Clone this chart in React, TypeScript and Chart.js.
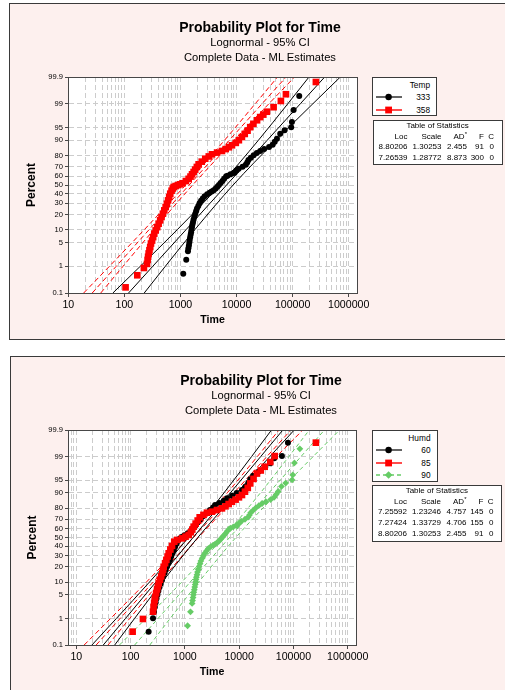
import React, { useEffect, useRef } from 'react';
import { Chart, registerables, LinearScale } from 'chart.js';

Chart.register(...registerables);

// ---------------- data ----------------
const PCT_TICKS = [0.1, 1, 5, 10, 20, 30, 40, 50, 60, 70, 80, 90, 95, 99, 99.9];
const FIT_PCT = [0.1, 1, 10, 50, 90, 99, 99.9];

// Top panel: Temp 333 (N=91)
const temp333Time = [1122, 1268, 1360, 1385, 1415, 1440, 1460, 1490, 1520, 1550, 1575, 1600, 1630, 1670, 1710, 1762, 1830, 1900, 1970, 2080, 2190, 2330, 2500, 2700, 3000, 3310, 3600, 3920, 4250, 4550, 4850, 5200, 5600, 6000, 6500, 6900, 7800, 8800, 9300, 10000, 10900, 12800, 14600, 15500, 16300, 18000, 20200, 23000, 26400, 31000, 38000, 44000, 48000, 52500, 60100, 72000, 94400, 97200, 104200, 131200];
const temp333Pct = [0.56, 1.63, 2.9, 3.5, 4.2, 5.0, 5.8, 6.7, 7.7, 8.8, 10, 11.3, 12.7, 14.2, 16, 18, 20.3, 22.6, 25, 27.5, 30, 32.6, 35, 37.5, 39.7, 41.3, 42.5, 44, 46, 48, 50, 52.2, 54.5, 57, 59.5, 60.5, 62, 63.5, 64, 66, 68, 70, 72, 74, 76.2, 78.2, 80.2, 82, 83.5, 84.8, 86.2, 87.6, 89.2, 90.7, 92.9, 94.1, 95.1, 96.4, 98.4, 99.46];

// Top panel: Temp 358 (N=300)
const temp358Time = [105, 170, 223, 253, 260, 265, 271, 280, 289, 298, 312, 326, 341, 362, 385, 408, 435, 460, 487, 515, 545, 574, 602, 630, 658, 695, 730, 757, 820, 900, 980, 1090, 1250, 1400, 1510, 1610, 1718, 1830, 1960, 2110, 2400, 2767, 3200, 3646, 4500, 5495, 6400, 7300, 8283, 9700, 11000, 12480, 14000, 15700, 17550, 20000, 23200, 26400, 30000, 34800, 45800, 61800, 76000, 260000];
const temp358Pct = [0.17, 0.49, 0.88, 1.2, 1.6, 2.0, 2.5, 3.1, 3.8, 4.7, 5.6, 6.8, 8.2, 9.7, 11.4, 13.4, 15.6, 18, 20.6, 23.4, 26.4, 29.6, 33, 36.6, 40.2, 43.5, 46, 47.7, 48.8, 49.8, 50.8, 52, 54.5, 57, 59.5, 62, 64.5, 67, 69.7, 72.3, 74.8, 77.4, 79.3, 81, 82.3, 83.5, 84.8, 86, 87.2, 88.6, 90, 91.5, 92.8, 94, 95.1, 96, 96.8, 97.4, 97.8, 98.2, 98.7, 99.19, 99.53, 99.84];

// Fitted lines and 95% CI (time at FIT_PCT)
const temp333Fit = [118.7, 321, 1253, 6646, 35270, 137600, 373300];
const temp333Lo = [62.4, 192, 873, 5085, 24580, 82200, 196000];
const temp333Hi = [226, 537, 1798, 8690, 50600, 230300, 709000];
const temp358Fit = [26.7, 71.5, 274.5, 1429, 7441, 28580, 76500];
const temp358Lo = [18.8, 54.1, 225.5, 1236, 6111, 21600, 53900];
const temp358Hi = [37.9, 94.6, 334, 1653, 9060, 37800, 108600];

// Bottom panel: Humd 60 (N=145)
const humd60Time = [215, 259, 270, 280, 290, 300, 312, 325, 340, 358, 378, 398, 420, 445, 470, 500, 530, 560, 592, 625, 660, 700, 745, 800, 870, 980, 1130, 1290, 1420, 1560, 1730, 1920, 2150, 2500, 2900, 3300, 3600, 4300, 5200, 6000, 7400, 9000, 11300, 13000, 14800, 16000, 18000, 22900, 30300, 37400, 44300, 61300, 79200];
const humd60Pct = [0.34, 1.01, 1.6, 2.3, 3.1, 4.0, 5.0, 6.2, 7.6, 9.2, 11, 13, 15.2, 17.6, 20.2, 23, 26, 29.2, 32.6, 36, 39.5, 43, 46, 48.5, 50.5, 52.5, 55, 58, 61, 64, 67, 70, 73, 76, 78.5, 80.5, 82.5, 84, 85.5, 87, 88.5, 90, 91.4, 92.8, 94.2, 95.3, 96.2, 97.1, 97.9, 98.35, 98.86, 99.04, 99.68];

// Bottom panel: Humd 85 (N=155)
const humd85Time = [109, 169, 259, 265, 272, 278, 285, 296, 308, 318, 329, 348, 366, 384, 397, 407, 432, 456, 480, 503, 540, 580, 638, 720, 885, 1030, 1175, 1290, 1370, 1452, 1580, 1720, 1875, 2200, 2554, 3155, 3900, 4820, 5600, 6400, 7360, 8600, 9900, 11270, 12800, 14400, 16000, 18400, 21270, 25000, 29500, 37400, 45080, 259000];
const humd85Pct = [0.34, 0.96, 1.65, 2.3, 3.0, 3.7, 4.4, 5.5, 6.8, 8.0, 9.4, 11.2, 13.2, 15.4, 17.7, 20, 23, 26, 29.2, 32.5, 36.5, 40.5, 45.2, 47.2, 49, 51, 52.9, 56, 59, 62.2, 65.5, 68.7, 71.9, 74.2, 76.2, 77.1, 78.5, 79.9, 81.5, 83.2, 84.8, 86.2, 87.6, 88.9, 90.6, 92.3, 94.0, 95.4, 96.7, 97.3, 97.9, 98.5, 99.04, 99.68];

// Humd 90 is the same sample as Temp 333 (identical statistics)
const humd90Time = temp333Time;
const humd90Pct = temp333Pct;

const humd60Fit = [31.4, 80.6, 292, 1415, 6870, 24930, 63900];
const humd60Lo = [19.4, 54.8, 222.6, 1159, 5240, 16940, 39450];
const humd60Hi = [50.9, 118.5, 382, 1731, 9006, 36680, 103500];
const humd85Fit = [23.2, 64.3, 259.8, 1441, 8003, 32370, 89850];
const humd85Lo = [13.96, 42.9, 195.6, 1168, 6025, 21590, 54200];
const humd85Hi = [38.4, 96.4, 345, 1779, 10630, 48540, 149000];
const humd90Fit = temp333Fit;
const humd90Lo = temp333Lo;
const humd90Hi = temp333Hi;

const tempStats = [
  ['8.80206', '1.30253', '2.455', '91', '0'],
  ['7.26539', '1.28772', '8.873', '300', '0'],
];
const humdStats = [
  ['7.25592', '1.23246', '4.757', '145', '0'],
  ['7.27424', '1.33729', '4.706', '155', '0'],
  ['8.80206', '1.30253', '2.455', '91', '0'],
];

// ---------------- styling ----------------
const FONT = '"Liberation Sans", Arial, sans-serif';
const PANEL_BG = '#fdf0ee';
const RED = '#ff0000';
const BLACK = '#000000';
const GREEN = '#66cc66';

Chart.defaults.font.family = FONT;
Chart.defaults.color = '#000';

// ---------------- probability (normal) scale ----------------
function probit(p: number): number {
  const a = [-3.969683028665376e1, 2.209460984245205e2, -2.759285104469687e2, 1.38357751867269e2, -3.066479806614716e1, 2.506628277459239];
  const b = [-5.447609879822406e1, 1.615858368580409e2, -1.556989798598866e2, 6.680131188771972e1, -1.328068155288572e1];
  const c = [-7.784894002430293e-3, -3.223964580411365e-1, -2.400758277161838, -2.549732539343734, 4.374664141464968, 2.938163982698783];
  const d = [7.784695709041462e-3, 3.224671290700398e-1, 2.445134137142996, 3.754408661907416];
  const pl = 0.02425;
  p = Math.min(Math.max(p, 1e-9), 1 - 1e-9);
  if (p < pl) {
    const q = Math.sqrt(-2 * Math.log(p));
    return (((((c[0] * q + c[1]) * q + c[2]) * q + c[3]) * q + c[4]) * q + c[5]) / ((((d[0] * q + d[1]) * q + d[2]) * q + d[3]) * q + 1);
  }
  if (p <= 1 - pl) {
    const q = p - 0.5;
    const r = q * q;
    return ((((((a[0] * r + a[1]) * r + a[2]) * r + a[3]) * r + a[4]) * r + a[5]) * q) / (((((b[0] * r + b[1]) * r + b[2]) * r + b[3]) * r + b[4]) * r + 1);
  }
  const q = Math.sqrt(-2 * Math.log(1 - p));
  return -(((((c[0] * q + c[1]) * q + c[2]) * q + c[3]) * q + c[4]) * q + c[5]) / ((((d[0] * q + d[1]) * q + d[2]) * q + d[3]) * q + 1);
}

function normCdf(z: number): number {
  const t = 1 / (1 + 0.2316419 * Math.abs(z));
  const dd = 0.3989423 * Math.exp(-z * z / 2);
  const p = dd * t * (0.3193815 + t * (-0.3565638 + t * (1.781478 + t * (-1.821256 + t * 1.330274))));
  return z > 0 ? 1 - p : p;
}

class ProbabilityScale extends (LinearScale as any) {
  static id = 'probability';
  determineDataLimits() {
    const o: any = (this as any).options;
    (this as any).min = o.min ?? 0.1;
    (this as any).max = o.max ?? 99.9;
  }
  buildTicks() {
    return PCT_TICKS.map((v) => ({ value: v }));
  }
  getPixelForValue(value: any) {
    if (value === null || value === undefined || isNaN(value)) return NaN;
    const self: any = this;
    const z0 = probit(self.min / 100);
    const z1 = probit(self.max / 100);
    return self.getPixelForDecimal((probit(value / 100) - z0) / (z1 - z0));
  }
  getValueForPixel(pixel: number) {
    const self: any = this;
    const z0 = probit(self.min / 100);
    const z1 = probit(self.max / 100);
    const dec = self.getDecimalForPixel(pixel);
    return normCdf(z0 + dec * (z1 - z0)) * 100;
  }
}
Chart.register(ProbabilityScale as any);

const X_GRID: number[] = [];
for (let e = 0; e <= 6; e++) for (let m = 1; m <= 9; m++) X_GRID.push(m * Math.pow(10, e));
const isDecade = (v: number) => Math.abs(Math.log10(v) - Math.round(Math.log10(v))) < 1e-9;

const framePlugin = {
  id: 'plotFrame',
  beforeDraw(chart: any) {
    const { ctx, chartArea: a } = chart;
    ctx.save();
    ctx.fillStyle = '#ffffff';
    ctx.fillRect(a.left, a.top, a.right - a.left, a.bottom - a.top);
    ctx.restore();
  },
  afterDraw(chart: any) {
    const { ctx, chartArea: a } = chart;
    ctx.save();
    ctx.strokeStyle = '#474747';
    ctx.lineWidth = 1;
    ctx.strokeRect(Math.round(a.left) + 0.5, Math.round(a.top) + 0.5, Math.round(a.right - a.left), Math.round(a.bottom - a.top));
    ctx.restore();
  },
};

function pointsDs(times: number[], pcts: number[], color: string, style: string, radius: number, order: number) {
  return {
    data: times.map((t, i) => ({ x: t, y: pcts[i] })),
    showLine: false,
    pointStyle: style,
    pointRadius: radius,
    pointBackgroundColor: color,
    pointBorderColor: color,
    pointBorderWidth: 0,
    order,
  };
}

function lineDs(times: number[], color: string, dash: number[], order: number) {
  return {
    data: times.map((t, i) => ({ x: t, y: FIT_PCT[i] })),
    showLine: true,
    pointRadius: 0,
    borderColor: color,
    borderWidth: 1,
    borderDash: dash,
    cubicInterpolationMode: 'monotone',
    fill: false,
    order,
  };
}

type LegendItem = { label: string; color: string; marker: 'circle' | 'square' | 'diamond'; dashed?: boolean };

type PanelProps = {
  left: number;
  top: number;
  width: number;
  height: number;
  showBottomBorder: boolean;
  pad: { left: number; top: number; right: number; bottom: number };
  yW: number;
  xH: number;
  xMin: number;
  xMax: number;
  datasets: any[];
  legendTitle: string;
  legendItems: LegendItem[];
  legendBox: { left: number; top: number; width: number; height: number };
  tableBox: { left: number; top: number; width: number; height: number };
  stats: string[][];
};

function Marker({ item }: { item: LegendItem }) {
  const cx = 12.6;
  const cy = 5;
  let m: any = null;
  if (item.marker === 'circle') m = <circle cx={cx} cy={cy} r={3.2} fill={item.color} />;
  else if (item.marker === 'square') m = <rect x={cx - 3.4} y={cy - 3.4} width={6.8} height={6.8} fill={item.color} />;
  else m = <polygon points={`${cx},${cy - 3.8} ${cx + 3.8},${cy} ${cx},${cy + 3.8} ${cx - 3.8},${cy}`} fill={item.color} />;
  return (
    <svg width={27} height={10} style={{ position: 'absolute', left: 3, top: -5 + 0, overflow: 'visible' }}>
      <line x1={0} y1={cy} x2={26} y2={cy} stroke={item.color === BLACK ? '#222' : item.color} strokeWidth={1.4} strokeDasharray={item.dashed ? '4 3' : undefined} />
      {m}
    </svg>
  );
}

function Panel(props: PanelProps) {
  const ref = useRef<HTMLCanvasElement>(null);
  const innerW = props.width - 1;
  const innerH = props.height - 1 - (props.showBottomBorder ? 1 : 0);

  useEffect(() => {
    const chart = new Chart(ref.current as HTMLCanvasElement, {
      type: 'scatter',
      data: { datasets: props.datasets },
      options: {
        animation: false,
        responsive: false,
        events: [],
        layout: { padding: props.pad },
        plugins: { legend: { display: false }, tooltip: { enabled: false }, title: { display: false } },
        scales: {
          x: {
            type: 'logarithmic',
            min: props.xMin,
            max: props.xMax,
            bounds: 'data',
            afterBuildTicks: (s: any) => {
              s.ticks = X_GRID.filter((v) => v >= s.min && v <= s.max).map((v) => ({ value: v, major: false }));
            },
            afterFit: (s: any) => {
              s.height = props.xH;
            },
            ticks: {
              autoSkip: false,
              maxRotation: 0,
              minRotation: 0,
              padding: 2,
              color: '#000',
              font: { size: 10.6 },
              callback: (v: any) => (isDecade(Number(v)) ? String(v) : ''),
            },
            grid: {
              color: '#cccccc',
              lineWidth: 1,
              tickLength: 4,
              tickColor: (ctx: any) => (ctx.tick && isDecade(ctx.tick.value) ? '#474747' : 'rgba(0,0,0,0)'),
            },
            border: { dash: [5, 3], color: '#474747' },
            title: { display: true, text: 'Time', color: '#000', font: { size: 10.6, weight: 'bold' }, padding: { top: 0, bottom: 4 } },
          },
          y: {
            type: 'probability',
            min: 0.1,
            max: 99.9,
            afterFit: (s: any) => {
              s.width = props.yW;
            },
            ticks: {
              autoSkip: false,
              padding: 2,
              color: '#000',
              font: { size: 7.6 },
              callback: (v: any) => String(v),
            },
            grid: { color: '#cccccc', lineWidth: 1, tickLength: 3, tickColor: '#474747' },
            border: { dash: [5, 3], color: '#474747' },
            title: { display: true, text: 'Percent', color: '#000', font: { size: 12, weight: 'bold' }, padding: { top: 4, bottom: 0 } },
          },
        } as any,
      } as any,
      plugins: [framePlugin],
    } as any);
    return () => chart.destroy();
  }, []);

  const lb = props.legendBox;
  const tb = props.tableBox;
  const colRight = [34, 68, 93.5, 110.5, 120.5];
  const headers: any[] = ['Loc', 'Scale', <span key="ad">AD<sup style={{ fontSize: 6, verticalAlign: 'top', lineHeight: '6px' }}>*</sup></span>, 'F', 'C'];

  return (
    <div
      style={{
        position: 'absolute',
        left: props.left,
        top: props.top,
        width: props.width,
        height: props.height,
        boxSizing: 'border-box',
        background: PANEL_BG,
        borderLeft: '1px solid #3a3a3a',
        borderTop: '1px solid #3a3a3a',
        borderBottom: props.showBottomBorder ? '1px solid #3a3a3a' : 'none',
        fontFamily: FONT,
        color: '#000',
        overflow: 'hidden',
      }}
    >
      <canvas ref={ref} width={innerW} height={innerH} style={{ position: 'absolute', left: 0, top: 0, width: innerW, height: innerH }} />
      <div style={{ position: 'absolute', left: 250, top: 23 - 9, transform: 'translateX(-50%)', whiteSpace: 'nowrap', fontSize: 14, fontWeight: 'bold', lineHeight: '18px' }}>
        Probability Plot for Time
      </div>
      <div style={{ position: 'absolute', left: 250, top: 38 - 7, transform: 'translateX(-50%)', whiteSpace: 'nowrap', fontSize: 11.2, lineHeight: '14px' }}>
        Lognormal - 95% CI
      </div>
      <div style={{ position: 'absolute', left: 250, top: 53 - 7, transform: 'translateX(-50%)', whiteSpace: 'nowrap', fontSize: 11.2, lineHeight: '14px' }}>
        Complete Data - ML Estimates
      </div>

      <div style={{ position: 'absolute', left: lb.left, top: lb.top, width: lb.width, height: lb.height, boxSizing: 'border-box', border: '1px solid #3a3a3a', background: '#ffffff', fontSize: 8.3 }}>
        <div style={{ position: 'absolute', right: 6, top: 7 - 6, lineHeight: '12px', whiteSpace: 'nowrap' }}>{props.legendTitle}</div>
        {props.legendItems.map((it, i) => {
          const cy = 19.3 + i * 12.3;
          return (
            <div key={it.label} style={{ position: 'absolute', left: 0, top: cy, width: '100%', height: 0 }}>
              <Marker item={it} />
              <div style={{ position: 'absolute', right: 6, top: -6, lineHeight: '12px', whiteSpace: 'nowrap' }}>{it.label}</div>
            </div>
          );
        })}
      </div>

      <div style={{ position: 'absolute', left: tb.left, top: tb.top, width: tb.width, height: tb.height, boxSizing: 'border-box', border: '1px solid #3a3a3a', background: '#ffffff', fontSize: 8 }}>
        <div style={{ position: 'absolute', left: 0, width: '100%', top: 5 - 6, lineHeight: '12px', textAlign: 'center', whiteSpace: 'nowrap' }}>Table of Statistics</div>
        {headers.map((h, j) => (
          <div key={'h' + j} style={{ position: 'absolute', left: colRight[j] - 40, width: 40, top: 15.5 - 6, lineHeight: '12px', textAlign: 'right', whiteSpace: 'nowrap' }}>
            {h}
          </div>
        ))}
        {props.stats.map((row, i) =>
          row.map((cell, j) => (
            <div key={i + '_' + j} style={{ position: 'absolute', left: colRight[j] - 40, width: 40, top: 26.3 + i * 11 - 6, lineHeight: '12px', textAlign: 'right', whiteSpace: 'nowrap' }}>
              {cell}
            </div>
          ))
        )}
      </div>
    </div>
  );
}

export default function App() {
  const topDatasets = [
    pointsDs(temp358Time, temp358Pct, RED, 'rect', 4.7, 0),
    pointsDs(temp333Time, temp333Pct, BLACK, 'circle', 3, 1),
    lineDs(temp333Fit, BLACK, [], 3),
    lineDs(temp333Lo, BLACK, [], 3),
    lineDs(temp333Hi, BLACK, [], 3),
    lineDs(temp358Fit, RED, [5, 3], 4),
    lineDs(temp358Lo, RED, [5, 3], 4),
    lineDs(temp358Hi, RED, [5, 3], 4),
  ];
  const bottomDatasets = [
    pointsDs(humd85Time, humd85Pct, RED, 'rect', 4.7, 0),
    pointsDs(humd60Time, humd60Pct, BLACK, 'circle', 3, 1),
    pointsDs(humd90Time, humd90Pct, GREEN, 'rectRot', 3.4, 2),
    lineDs(humd60Fit, BLACK, [], 3),
    lineDs(humd60Lo, BLACK, [], 3),
    lineDs(humd60Hi, BLACK, [], 3),
    lineDs(humd85Fit, RED, [5, 3], 4),
    lineDs(humd85Lo, RED, [5, 3], 4),
    lineDs(humd85Hi, RED, [5, 3], 4),
    lineDs(humd90Fit, GREEN, [4, 3], 5),
    lineDs(humd90Lo, GREEN, [4, 3], 5),
    lineDs(humd90Hi, GREEN, [4, 3], 5),
  ];

  return (
    <div style={{ position: 'absolute', left: 0, top: 0, width: 505, height: 690, overflow: 'hidden', background: '#ffffff' }}>
      <Panel
        left={9}
        top={3}
        width={496}
        height={337}
        showBottomBorder={true}
        pad={{ left: 10, top: 73, right: 148, bottom: 9 }}
        yW={48}
        xH={37}
        xMin={9.88}
        xMax={1406000}
        datasets={topDatasets}
        legendTitle="Temp"
        legendItems={[
          { label: '333', color: BLACK, marker: 'circle' },
          { label: '358', color: RED, marker: 'square' },
        ]}
        legendBox={{ left: 362, top: 73, width: 65, height: 39 }}
        tableBox={{ left: 362.5, top: 116, width: 130, height: 45 }}
        stats={tempStats}
      />
      <Panel
        left={10}
        top={356}
        width={495}
        height={334}
        showBottomBorder={false}
        pad={{ left: 10, top: 73, right: 149, bottom: 8 }}
        yW={47}
        xH={37}
        xMin={7.03}
        xMax={1420000}
        datasets={bottomDatasets}
        legendTitle="Humd"
        legendItems={[
          { label: '60', color: BLACK, marker: 'circle' },
          { label: '85', color: RED, marker: 'square' },
          { label: '90', color: GREEN, marker: 'diamond', dashed: true },
        ]}
        legendBox={{ left: 361, top: 73, width: 65.5, height: 52 }}
        tableBox={{ left: 361, top: 128, width: 129.5, height: 57 }}
        stats={humdStats}
      />
    </div>
  );
}
